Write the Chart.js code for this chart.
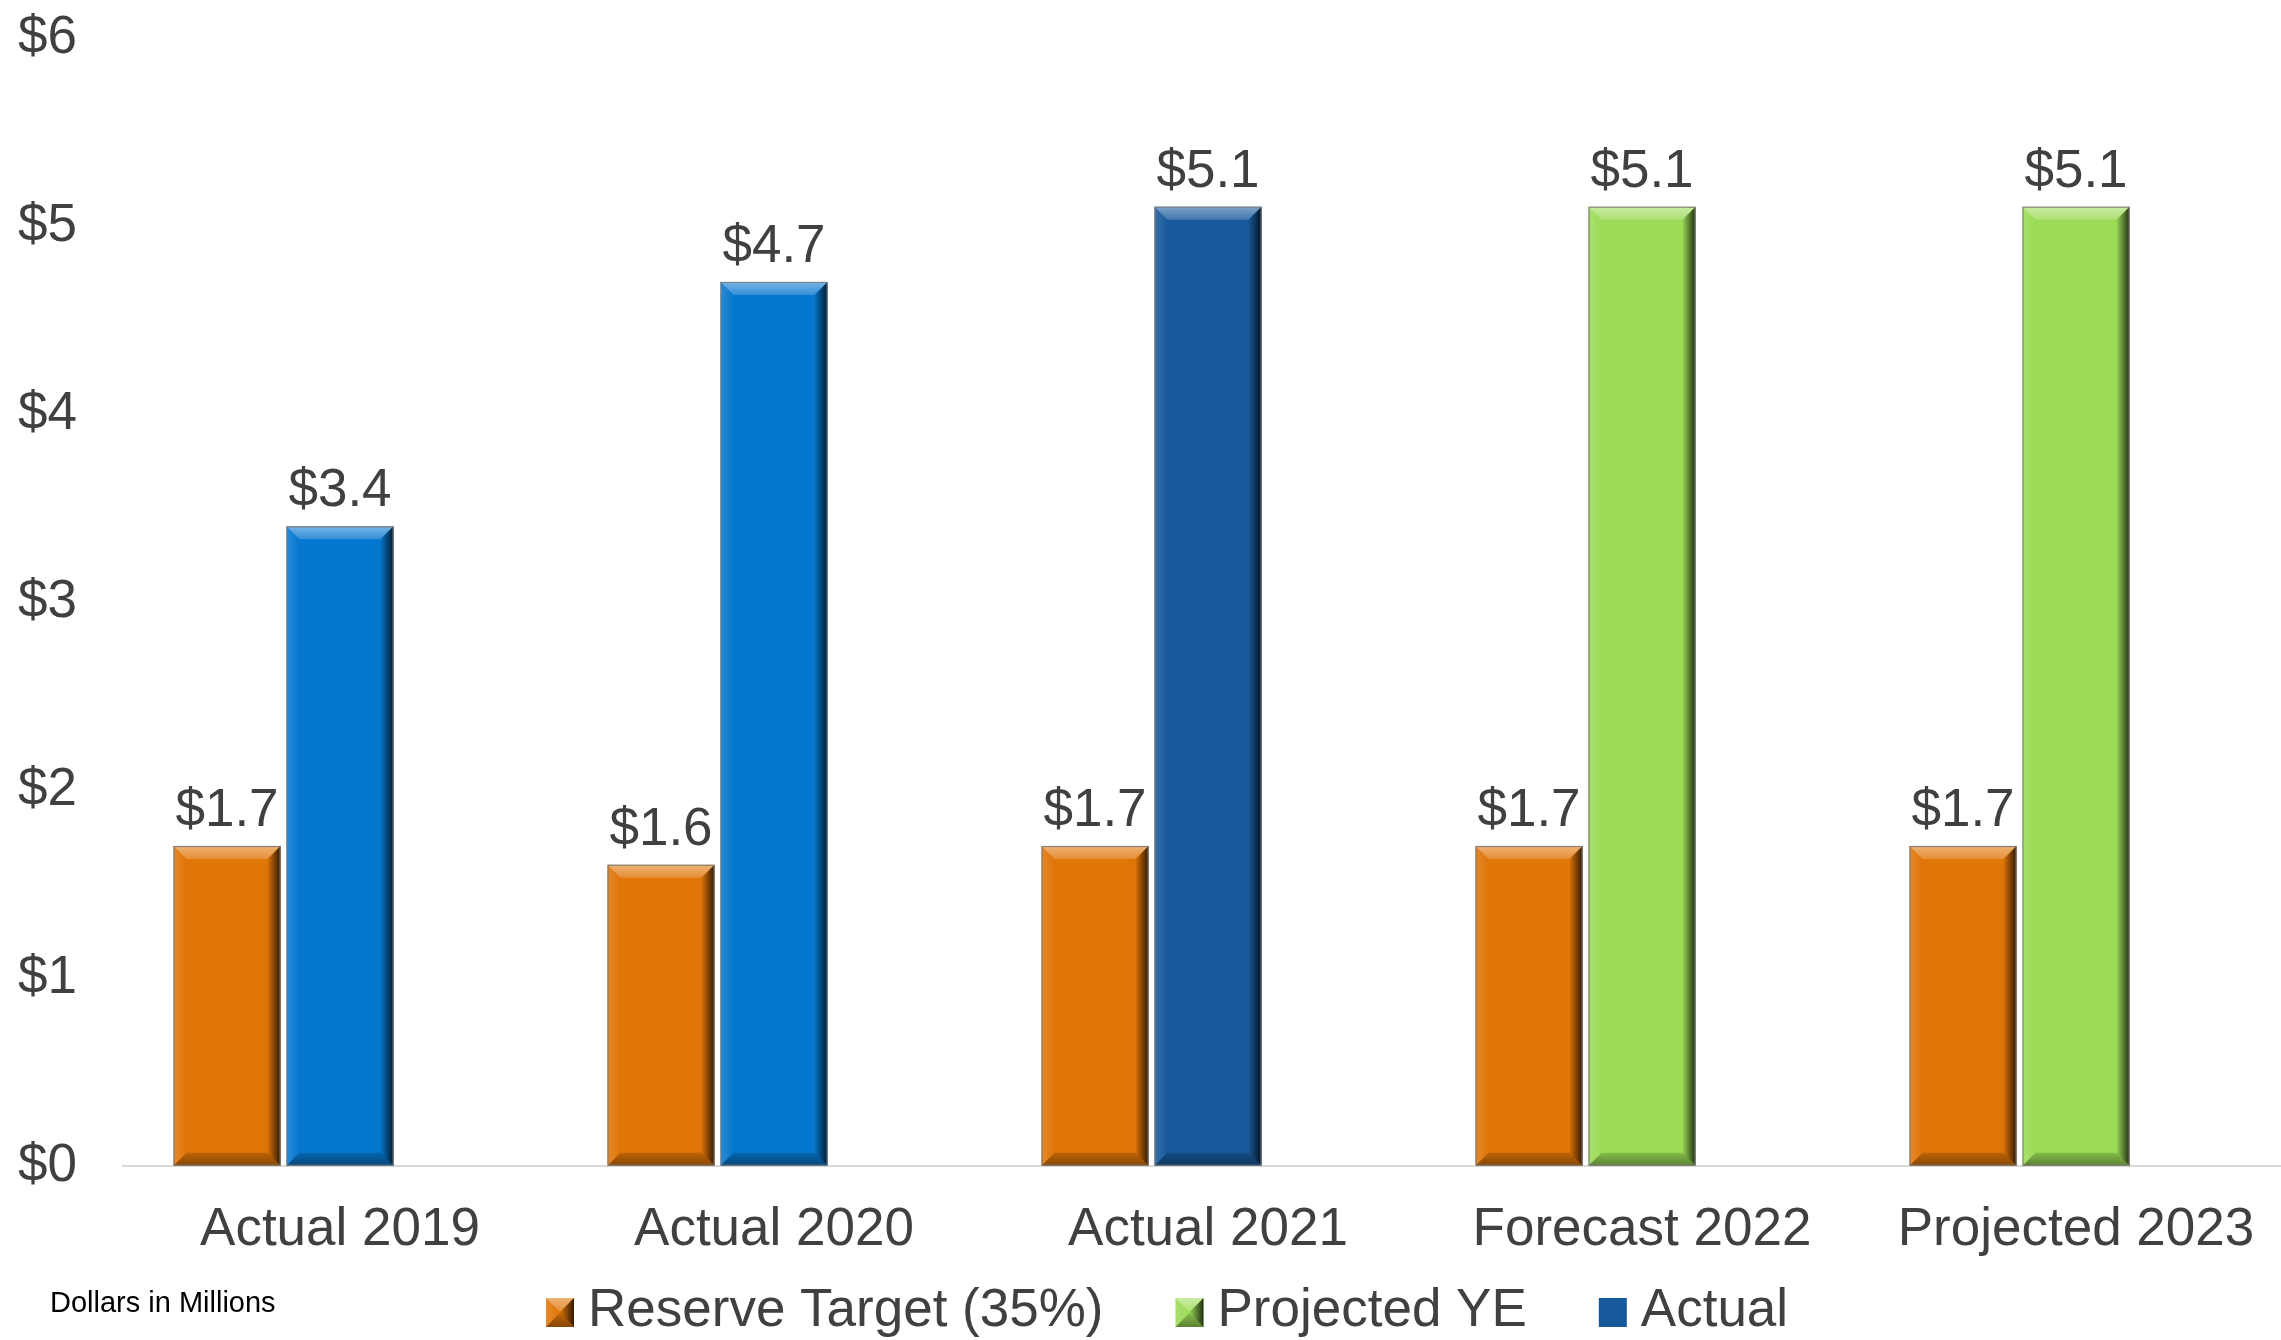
<!DOCTYPE html>
<html>
<head>
<meta charset="utf-8">
<script src="https://cdn.jsdelivr.net/npm/chart.js@4/dist/chart.umd.min.js"></script>
<style>
  html, body { margin: 0; padding: 0; background: #ffffff; overflow: hidden; }
  #wrap { width: 2281px; height: 1340px; position: relative; overflow: hidden; }
</style>
</head>
<body>
<div id="wrap"><canvas id="c" width="2293" height="1340"></canvas></div>
<script>
// ---- data ----
const categories = ['Actual 2019', 'Actual 2020', 'Actual 2021', 'Forecast 2022', 'Projected 2023'];
const reserveTarget = [1.7, 1.6, 1.7, 1.7, 1.7];
const projectedYE = [null, null, null, 5.1, 5.1];
const actual = [3.4, 4.7, 5.1, null, null];
const spareSlot = [null, null, null, null, null];
const yTicks = [0, 1, 2, 3, 4, 5, 6];
const seriesLabels = ['Reserve Target (35%)', 'Projected YE', 'Actual'];
const unitNote = 'Dollars in Millions';

// ---- style ----
const ORANGE = '#E07508', GREEN = '#9BDB56', BLUE = '#0677CE', DARKBLUE = '#17599B';
const FONT = "'Liberation Sans', Arial, Helvetica, sans-serif";
const TEXT = '#404040';

function poly(ctx, pts) {
  ctx.beginPath();
  ctx.moveTo(pts[0][0], pts[0][1]);
  for (let i = 1; i < pts.length; i++) ctx.lineTo(pts[i][0], pts[i][1]);
  ctx.closePath();
}

function drawBevel(ctx, l, t, r, b, s, outline, maxFrac) {
  s = Math.min(s, (r - l) * maxFrac, (b - t) * maxFrac);
  ctx.save();
  let g = ctx.createLinearGradient(0, t, 0, t + s);
  g.addColorStop(0, 'rgba(255,255,255,0.45)');
  g.addColorStop(1, 'rgba(255,255,255,0.18)');
  poly(ctx, [[l, t], [r, t], [r - s, t + s], [l + s, t + s]]);
  ctx.fillStyle = g; ctx.fill();

  g = ctx.createLinearGradient(l, 0, l + s, 0);
  g.addColorStop(0, 'rgba(255,255,255,0.14)');
  g.addColorStop(1, 'rgba(255,255,255,0)');
  poly(ctx, [[l, t], [l + s, t + s], [l + s, b - s], [l, b]]);
  ctx.fillStyle = g; ctx.fill();

  g = ctx.createLinearGradient(0, b - s, 0, b);
  g.addColorStop(0, 'rgba(0,0,0,0.15)');
  g.addColorStop(1, 'rgba(0,0,0,0.40)');
  poly(ctx, [[l, b], [l + s, b - s], [r - s, b - s], [r, b]]);
  ctx.fillStyle = g; ctx.fill();

  g = ctx.createLinearGradient(r - s, 0, r, 0);
  g.addColorStop(0, 'rgba(0,0,0,0.03)');
  g.addColorStop(1, 'rgba(0,0,0,0.78)');
  poly(ctx, [[r, t], [r, b], [r - s, b - s], [r - s, t + s]]);
  ctx.fillStyle = g; ctx.fill();

  if (outline) {
    ctx.strokeStyle = 'rgba(120,120,120,0.85)';
    ctx.lineWidth = 1.2;
    ctx.strokeRect(l + 0.5, t + 0.5, r - l - 1, b - t - 1);
  }
  ctx.restore();
}

const bevelPlugin = {
  id: 'bevel',
  afterDatasetsDraw(chart) {
    const ctx = chart.ctx;
    chart.data.datasets.forEach((ds, i) => {
      if (ds.placeholder) return;
      const meta = chart.getDatasetMeta(i);
      meta.data.forEach((el, j) => {
        if (ds.data[j] == null) return;
        const p = el.getProps(['x', 'y', 'base', 'width'], true);
        drawBevel(ctx, p.x - p.width / 2, p.y, p.x + p.width / 2, p.base, 13, true, 1 / 3);
      });
    });
    // value labels
    ctx.save();
    ctx.font = '53px ' + FONT;
    ctx.fillStyle = TEXT;
    ctx.textAlign = 'center';
    ctx.textBaseline = 'alphabetic';
    chart.data.datasets.forEach((ds, i) => {
      if (ds.placeholder) return;
      const meta = chart.getDatasetMeta(i);
      meta.data.forEach((el, j) => {
        const v = ds.data[j];
        if (v == null) return;
        const p = el.getProps(['x', 'y'], true);
        ctx.fillText('$' + v.toFixed(1), p.x, p.y - 20);
      });
    });
    ctx.restore();
  }
};

const legendPlugin = {
  id: 'customLegend',
  afterDraw(chart) {
    const ctx = chart.ctx;
    ctx.save();
    // unit note
    ctx.font = '29px ' + FONT;
    ctx.fillStyle = '#000000';
    ctx.textAlign = 'left';
    ctx.textBaseline = 'middle';
    ctx.fillText(unitNote, 50, 1304);
    // legend entries
    ctx.font = '53px ' + FONT;
    let x = 546;
    const cy = 1311;
    chart.data.datasets.forEach(ds => {
      if (ds.placeholder) return;
      ctx.fillStyle = ds.legendColor;
      ctx.fillRect(x, 1298, 28, 29);
      if (ds.bevelLegend) drawBevel(ctx, x, 1298, x + 28, 1327, 14, false, 0.5);
      ctx.fillStyle = TEXT;
      ctx.fillText(ds.label, x + 28 + 14, cy);
      x += 28 + 14 + ctx.measureText(ds.label).width + 72;
    });
    ctx.restore();
  }
};

new Chart(document.getElementById('c').getContext('2d'), {
  type: 'bar',
  data: {
    labels: categories,
    datasets: [
      { label: seriesLabels[0], data: reserveTarget, backgroundColor: ORANGE, stack: 's1', legendColor: ORANGE, bevelLegend: true },
      { label: seriesLabels[1], data: projectedYE, backgroundColor: GREEN, stack: 's2', legendColor: GREEN, bevelLegend: true },
      { label: seriesLabels[2], data: actual, backgroundColor: [BLUE, BLUE, DARKBLUE, DARKBLUE, DARKBLUE], stack: 's2', legendColor: DARKBLUE, bevelLegend: false },
      { label: '', data: spareSlot, backgroundColor: 'rgba(0,0,0,0)', stack: 's3', placeholder: true }
    ]
  },
  options: {
    responsive: false,
    animation: false,
    devicePixelRatio: 1,
    layout: { padding: { left: 18, right: 0, top: 37.5, bottom: 44.5 } },
    datasets: { bar: { categoryPercentage: 0.781, barPercentage: 0.947, borderWidth: 0 } },
    scales: {
      x: {
        grid: { display: false, drawTicks: false },
        border: { display: true, color: '#D9D9D9', width: 2 },
        ticks: { font: { family: FONT, size: 53, lineHeight: 2.45 }, color: TEXT, padding: 0 }
      },
      y: {
        min: 0, max: 6,
        grid: { display: false, drawTicks: false },
        border: { display: false },
        afterBuildTicks: axis => { axis.ticks = yTicks.map(v => ({ value: v })); },
        afterFit: axis => { axis.width = 105; },
        ticks: { font: { family: FONT, size: 53, lineHeight: 1.2 }, color: TEXT, padding: 0, crossAlign: 'far', labelOffset: 1, callback: v => '$' + v }
      }
    },
    plugins: { legend: { display: false }, tooltip: { enabled: false } }
  },
  plugins: [bevelPlugin, legendPlugin]
});
</script>
</body>
</html>
